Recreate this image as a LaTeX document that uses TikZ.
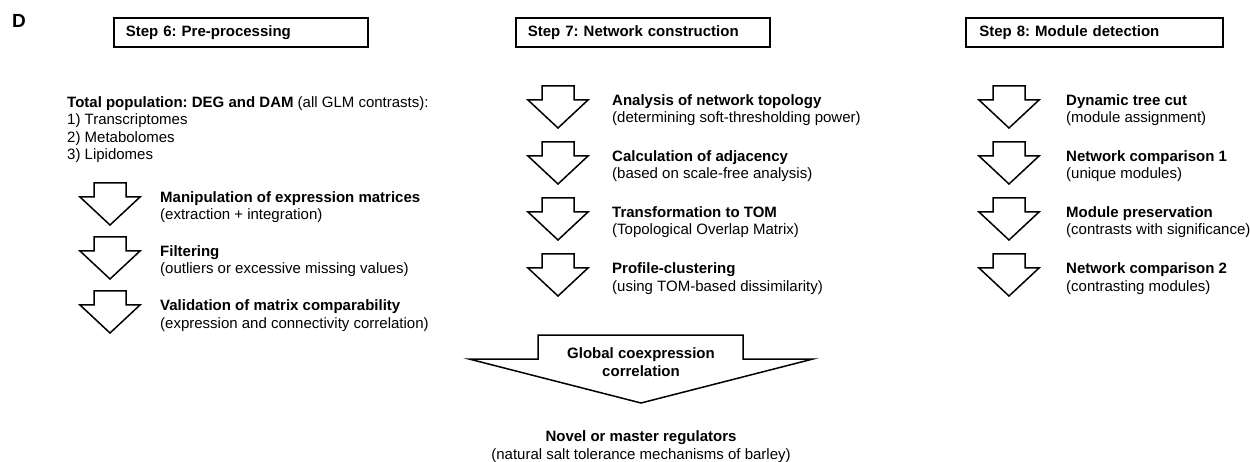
\documentclass[tikz,border=0pt]{standalone}
\usepackage{fontspec}
\setmainfont{Liberation Sans}
\frenchspacing
\begin{document}
\begin{tikzpicture}[x=1pt,y=-1pt,
  every node/.style={inner sep=0pt, font=\fontsize{15}{17.5}\selectfont},
  stepbox/.style={draw, line width=1.7pt, anchor=north west, minimum width=254pt, minimum height=29pt,
     text width=230pt, inner xsep=12pt, align=left},
  itemtext/.style={anchor=base west, align=left},
  arrowline/.style={draw, line width=1.5pt, line join=miter, fill=white},
  darrow/.pic={\path[arrowline] (-16,0) -- (16,0) -- (16,14) -- (30,14) -- (0,42) -- (-30,14) -- (-16,14) -- cycle;}
]
\useasboundingbox (0,0) rectangle (1250,462);

\node[font=\fontsize{19}{19}\selectfont\bfseries] (lab) at (19,21) {D};

% step boxes
\node[stepbox] (s6) at (113,17) {\textbf{Step 6: Pre-processing}};
\node[stepbox] (s7) at (515,17) {\textbf{Step 7: Network construction}};
\node[stepbox, minimum width=257pt] (s8) at (965,17) {\textbf{Step 8: Module detection}};

% step 6 (base anchor = baseline of the last line)
\node[itemtext] (pop) at (67,160) {\textbf{Total population: DEG and DAM} (all GLM contrasts):\\1) Transcriptomes\\2) Metabolomes\\3) Lipidomes};
\foreach \t/\n/\a/\b in {183/a1/Manipulation of expression matrices/(extraction + integration),
                         237/a2/Filtering/(outliers or excessive missing values),
                         291/a3/Validation of matrix comparability/(expression and connectivity correlation)}{
  \pic at (110,\t) {darrow};
  \node[itemtext] (\n) at (160,\t+37) {\textbf{\a}\\\b};
}

% step 7
\foreach \t/\n/\a/\b in {86/b1/Analysis of network topology/(determining soft-thresholding power),
                         142/b2/Calculation of adjacency/(based on scale-free analysis),
                         198/b3/Transformation to TOM/(Topological Overlap Matrix),
                         254/b4/Profile-clustering/(using TOM-based dissimilarity)}{
  \pic at (558,\t) {darrow};
  \node[itemtext] (\n) at (612,\t+37) {\textbf{\a}\\\b};
}

% step 8
\foreach \t/\n/\a/\b in {86/c1/Dynamic tree cut/(module assignment),
                         142/c2/Network comparison 1/(unique modules),
                         198/c3/Module preservation/(contrasts with significance),
                         254/c4/Network comparison 2/(contrasting modules)}{
  \pic at (1009,\t) {darrow};
  \node[itemtext] (\n) at (1066,\t+37) {\textbf{\a}\\\b};
}

% big arrow
\path[arrowline] (538,335) -- (743,335) -- (743,359) -- (813,359) -- (641,403) -- (469,359) -- (538,359) -- cycle;
\node[align=center, font=\fontsize{15}{18}\selectfont\bfseries] (glob) at (641,362) {Global coexpression\\correlation};

\node[anchor=base, align=center] (novel) at (641,459) {\textbf{Novel or master regulators}\\(natural salt tolerance mechanisms of barley)};
\end{tikzpicture}
\end{document}
